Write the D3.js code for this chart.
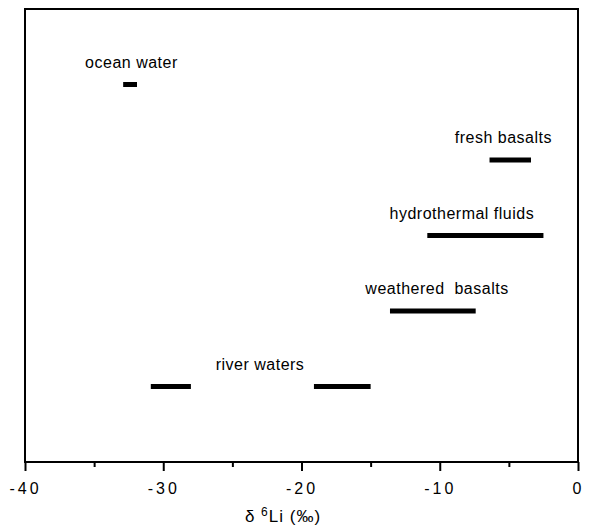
<!DOCTYPE html>
<html>
<head>
<meta charset="utf-8">
<script src="https://cdn.jsdelivr.net/npm/d3@7"></script>
<style>
  body { margin: 0; background: #fff; }
  text { font-family: "Liberation Sans", Arial, sans-serif; fill: #000; }
</style>
</head>
<body>
<div id="chart"></div>
<script>
// Li isotope ranges, one row per reservoir (row = vertical slot, 1 at top)
const labels = ["ocean water", "fresh basalts", "hydrothermal fluids", "weathered\u00a0 basalts", "river waters"];
const labelRows = [1, 2, 3, 4, 5];
const labelCenters = [-32.3, -5.4, -8.4, -10.2, -23.0];

const rangeRows = [1, 2, 3, 4, 5, 5];
const rangeLow  = [-32.9, -6.4, -10.9, -13.6, -30.9, -19.1];
const rangeHigh = [-31.9, -3.4, -2.5, -7.4, -28.0, -15.0];

const xTicks = [-40, -30, -20, -10, 0];
const xMinorTicks = [-35, -25, -15, -5];

function drawChart(container) {
    const margin = {top: 9, right: 14, bottom: 64, left: 25};
    const width = 592 - margin.left - margin.right;
    const height = 526 - margin.top - margin.bottom;

    const svg = d3.select(container).append("svg")
        .attr("width", 592)
        .attr("height", 526)
        .append("g")
        .attr("transform", `translate(${margin.left},${margin.top})`);

    const x = d3.scaleLinear().domain([-40, 0]).range([0, width]);
    const y = d3.scaleLinear().domain([0, 6]).range([0, height]);

    // frame
    svg.append("rect")
        .attr("x", 0).attr("y", 0)
        .attr("width", width).attr("height", height)
        .attr("fill", "none")
        .attr("stroke", "#000")
        .attr("stroke-width", 2);

    // minor ticks
    svg.append("g")
        .attr("transform", `translate(0,${height})`)
        .call(d3.axisBottom(x).tickValues(xMinorTicks).tickSize(5).tickFormat(""))
        .call(g => g.select(".domain").remove())
        .selectAll("line").attr("stroke-width", 2);

    // major ticks + labels
    const xAxis = svg.append("g")
        .attr("transform", `translate(0,${height})`)
        .call(d3.axisBottom(x).tickValues(xTicks).tickSize(9).tickPadding(12)
            .tickFormat(d => d === 0 ? "0" : "-" + Math.abs(d)));
    xAxis.select(".domain").remove();
    xAxis.selectAll("line").attr("stroke-width", 2);
    xAxis.selectAll("text")
        .style("font-family", "'Liberation Sans', Arial, sans-serif")
        .style("font-size", "16px")
        .style("letter-spacing", "3px")
        .attr("fill", "#000");

    // axis title
    const title = svg.append("text")
        .attr("x", 258)
        .attr("y", height + 60)
        .attr("text-anchor", "middle")
        .style("font-size", "17px")
        .style("letter-spacing", "1px");
    title.append("tspan").text("δ ");
    title.append("tspan").attr("dy", -6).style("font-size", "12px").text("6");
    title.append("tspan").attr("dy", 6).text("Li (‰)");

    // range bars
    svg.selectAll(".range")
        .data(rangeLow.map((lo, i) => ({lo, hi: rangeHigh[i], row: rangeRows[i]})))
        .enter().append("line")
        .attr("class", "range")
        .attr("x1", d => x(d.lo))
        .attr("x2", d => x(d.hi))
        .attr("y1", d => y(d.row))
        .attr("y2", d => y(d.row))
        .attr("stroke", "#000")
        .attr("stroke-width", 5);

    // labels
    svg.selectAll(".label")
        .data(labels.map((t, i) => ({t, row: labelRows[i], cx: labelCenters[i]})))
        .enter().append("text")
        .attr("class", "label")
        .attr("x", d => x(d.cx))
        .attr("y", d => y(d.row) - 17)
        .attr("text-anchor", "middle")
        .style("font-size", "16px")
        .style("letter-spacing", "0.5px")
        .text(d => d.t);
}

drawChart("#chart");
</script>
</body>
</html>
